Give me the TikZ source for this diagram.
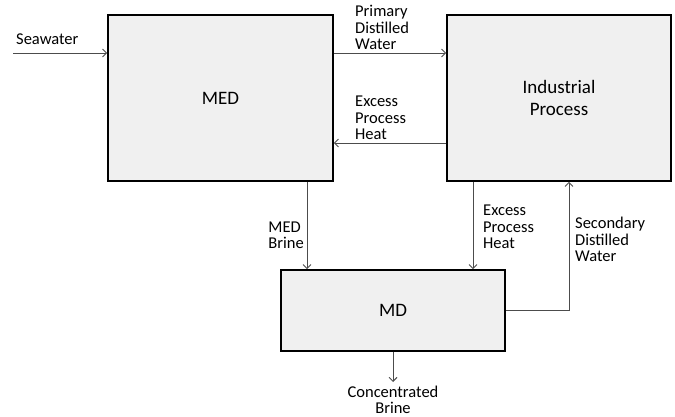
\documentclass[tikz,border=0pt]{standalone}
\usepackage{fontspec}
\setmainfont{Carlito}
\usetikzlibrary{arrows.meta}

\begin{document}
\begin{tikzpicture}[x=1pt, y=-1pt]
	\tikzstyle{block}    = [draw=black, line width=1.6pt, fill=gray!12, font=\fontsize{19}{22}\selectfont, align=center]
	\tikzstyle{flow}     = [draw=black!70, line width=0.9pt, -{Straight Barb[length=4pt, width=8pt]}]
	\tikzstyle{flowtext} = [inner sep=0pt, font=\fontsize{16.5}{16.5}\selectfont, align=left]

	\useasboundingbox (0,0) rectangle (675,417);

	% boxes
	\node[block, minimum width=225pt, minimum height=166pt] (med) at (220.5, 98) {MED};
	\node[block, minimum width=224pt, minimum height=166pt] (ind) at (559, 98) {Industrial\\Process};
	\node[block, minimum width=224pt, minimum height=81pt] (md) at (393, 310.5) {MD};

	% helper coordinates
	\coordinate (sea) at (13, 53);
	\coordinate (hx) at (0, 143);
	\coordinate (brine) at (307, 0);
	\coordinate (hd) at (473, 0);
	\coordinate (sec) at (569, 0);
	\coordinate (out) at (393, 382);

	% flows
	\draw[flow] (sea) -- (sea -| med.west);
	\draw[flow] (med.east |- sea) -- (ind.west |- sea);
	\draw[flow] (ind.west |- hx) -- (med.east |- hx);
	\draw[flow] (brine |- med.south) -- (brine |- md.north);
	\draw[flow] (hd |- ind.south) -- (hd |- md.north);
	\draw[flow] (md.east) -| (sec |- ind.south);
	\draw[flow] (md.south) -- (out);

	% flow labels
	\node[flowtext, anchor=base west] (seatext) at (16, 45) {Seawater};
	\node[flowtext, anchor=south west] (primtext) at (355, 50) {Primary\\Distilled\\Water};
	\node[flowtext, anchor=south west] (heattext) at (355, 140) {Excess\\Process\\Heat};
	\node[flowtext, anchor=south east] (brinetext) at (304, 249) {MED\\Brine};
	\node[flowtext, anchor=south west] (hdtext) at (483, 249) {Excess\\Process\\Heat};
	\node[flowtext, anchor=south west] (sectext) at (575, 262) {Secondary\\Distilled\\Water};
	\node[flowtext, anchor=south, align=center] (outtext) at (393, 414) {Concentrated\\Brine};

\end{tikzpicture}
\end{document}
